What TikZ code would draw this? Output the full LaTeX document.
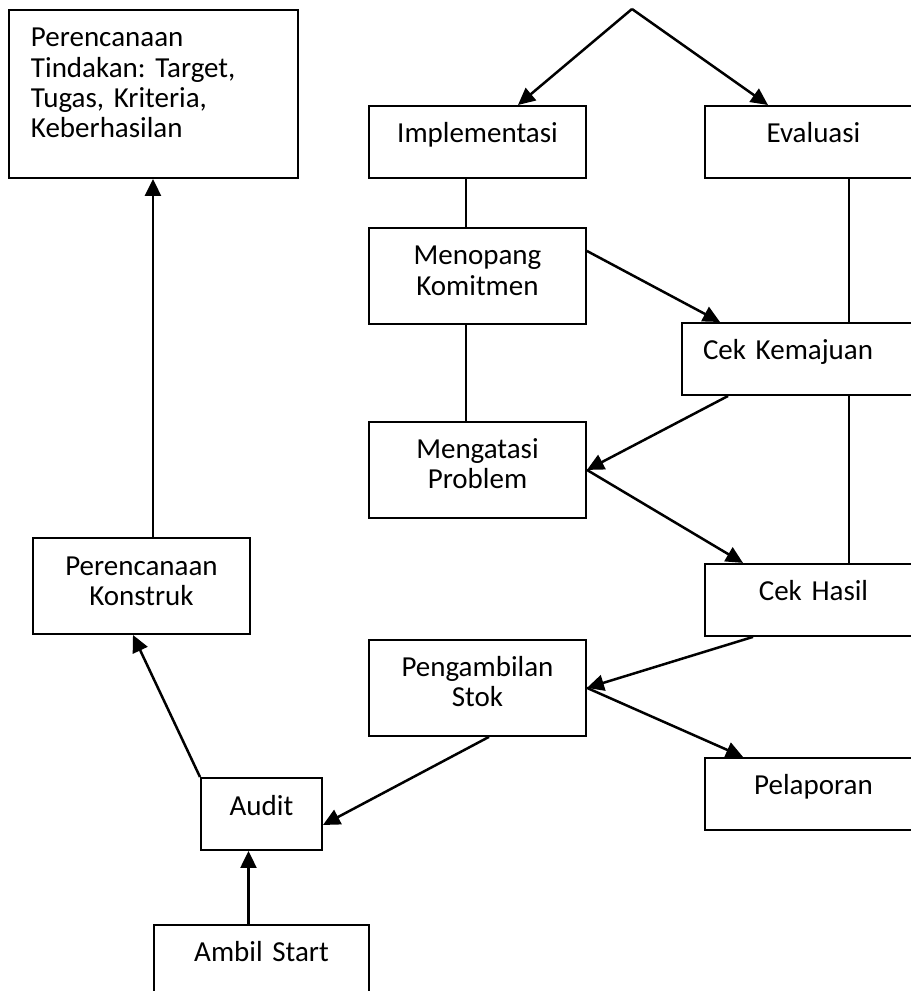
\documentclass[tikz,border=0pt]{standalone}
\usepackage{fontspec}
\setmainfont{Carlito}
\frenchspacing
\usetikzlibrary{arrows.meta,positioning}

\begin{document}
\begin{tikzpicture}[
  x=0.02cm, y=-0.02cm,
  box/.style={draw, line width=0.04cm, anchor=north west, inner xsep=0pt, inner ysep=0pt,
    text width=4.34cm, align=center, text height=0.74cm, text depth=0.7cm,
    font=\fontsize{16.5}{17.1}\selectfont},
  tall/.style={text depth=1.18cm},
  arr/.style={-{Triangle[length=0.34cm,width=0.32cm]}, line width=0.05cm},
  link/.style={line width=0.04cm}
]
  \useasboundingbox (0,0) rectangle (911,991);
  \clip (0,0) rectangle (911,991);

  % left column
  \node[box, align=left, text width=4.9cm, inner xsep=0.44cm, text depth=2.62cm] (tindakan) at (8,9) {Perencanaan\\Tindakan: Target,\\Tugas, Kriteria,\\Keberhasilan};
  \node[box, tall] (konstruk) at (32,537) {Perencanaan\\Konstruk};
  \node[box, text width=2.42cm] (audit) at (200,777) {Audit};
  \node[box, text width=4.32cm, below=1.46cm of audit] (start) {Ambil Start};

  % middle column
  \node[box] (impl) at (368,105) {Implementasi};
  \node[box, tall, below=0.96cm of impl] (menopang) {Menopang\\Komitmen};
  \node[box, tall, below=1.92cm of menopang] (mengatasi) {Mengatasi\\Problem};
  \node[box, tall, below=2.4cm of mengatasi] (stok) {Pengambilan\\Stok};

  % right column
  \node[box] (eval) at (704,105) {Evaluasi};
  \node[box, align=left, text width=4.36cm, inner xsep=0.42cm] (cekmaju) at (681,322) {Cek Kemajuan};
  \node[box, below=7.68cm of eval] (cekhasil) {Cek Hasil};
  \node[box, below=2.4cm of cekhasil] (lapor) {Pelaporan};

  % connectors
  \coordinate (apex) at (632,9);
  \draw[arr] (apex) -- ([xshift=-1.38cm]impl.north east);
  \draw[arr] (apex) -- ([xshift=1.28cm]eval.north west);
  \draw[link] ([xshift=-0.23cm]impl.south) -- ([xshift=-0.23cm]menopang.north);
  \draw[link] ([xshift=-0.23cm]menopang.south) -- ([xshift=-0.23cm]mengatasi.north);
  \draw[link] ([xshift=2.9cm]eval.south west) coordinate (e1) -- (e1 |- cekmaju.north);
  \draw[link] ([xshift=2.9cm]cekhasil.north west) coordinate (h1) -- (h1 |- cekmaju.south);
  \draw[arr] ([yshift=-0.48cm]menopang.north east) -- ([xshift=0.78cm]cekmaju.north west);
  \draw[arr] ([xshift=0.94cm]cekmaju.south west) -- (mengatasi.east);
  \draw[arr] (mengatasi.east) -- ([xshift=0.78cm]cekhasil.north west);
  \draw[arr] ([xshift=0.98cm]cekhasil.south west) -- (stok.east);
  \draw[arr] (stok.east) -- ([xshift=0.78cm]lapor.north west);
  \draw[arr] ([xshift=2.42cm]stok.south west) -- ([yshift=0.52cm]audit.south east);
  \draw[arr] (audit.north west) -- ([xshift=2.02cm]konstruk.south west);
  \draw[arr] ([xshift=2.42cm]konstruk.north west) coordinate (k1) -- (k1 |- tindakan.south);
  \draw[arr] ([xshift=1.92cm]start.north west) coordinate (s1) -- (s1 |- audit.south);
\end{tikzpicture}
\end{document}
